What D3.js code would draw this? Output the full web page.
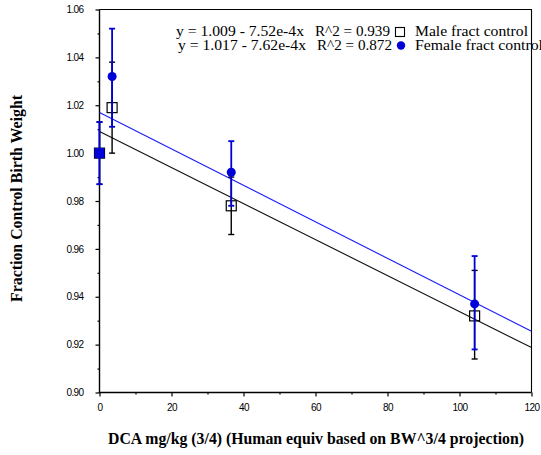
<!DOCTYPE html>
<html>
<head>
<meta charset="utf-8">
<script src="https://cdn.jsdelivr.net/npm/d3@7"></script>
<style>
  body { margin: 0; background: #fff; }
  svg { display: block; }
  .tick text { font-family: "Liberation Sans", Arial, sans-serif; font-size: 10px; letter-spacing: -0.6px; }
</style>
</head>
<body>
<div id="chart"></div>
<script>
// dose (human equiv, mg/kg^(3/4)) and fraction of control birth weight
const doses = [0, 3.5, 36.6, 104.2];
const maleMean = [1.000, 1.019, 0.978, 0.932];
const maleLow = [0.987, 1.000, 0.966, 0.914];
const maleHigh = [1.013, 1.038, 0.990, 0.951];
const femaleMean = [1.000, 1.032, 0.992, 0.937];
const femaleLow = [0.987, 1.011, 0.978, 0.918];
const femaleHigh = [1.013, 1.052, 1.005, 0.957];

// fitted lines: [intercept, slope]
const maleFit = [1.009, -7.52e-4];
const femaleFit = [1.017, -7.62e-4];

const legendEq = ['y = 1.009 - 7.52e-4x', 'y = 1.017 - 7.62e-4x'];
const legendR2 = ['R^2 = 0.939', 'R^2 = 0.872'];
const legendNames = ['Male fract control', 'Female fract control'];

const xDomain = [0, 120];
const yDomain = [0.90, 1.06];
const xMajor = d3.range(0, 121, 20);
const xMinor = d3.range(10, 120, 20);
const yMajor = d3.range(0, 9).map(i => +(0.90 + i * 0.02).toFixed(2));
const yMinor = d3.range(0, 8).map(i => +(0.91 + i * 0.02).toFixed(2));

const width = 541, height = 455;
const plot = { left: 99.5, right: 531.5, top: 9.5, bottom: 392.5 };
const blue = '#0000d8';
const serif = '"Liberation Serif", "Times New Roman", serif';

const svg = d3.select('#chart').append('svg')
  .attr('width', width)
  .attr('height', height);

const x = d3.scaleLinear().domain(xDomain).range([plot.left, plot.right]);
const y = d3.scaleLinear().domain(yDomain).range([plot.bottom, plot.top]);

// frame: thin top/right, heavier axes
svg.append('path')
  .attr('d', `M${plot.left},${plot.top}H${plot.right}V${plot.bottom}`)
  .attr('fill', 'none').attr('stroke', '#000').attr('stroke-width', 1.1);
svg.append('path')
  .attr('d', `M${plot.left},${plot.top}V${plot.bottom}H${plot.right}`)
  .attr('fill', 'none').attr('stroke', '#000').attr('stroke-width', 1.4);

// axes
svg.append('g')
  .attr('transform', `translate(${plot.left},0)`)
  .call(d3.axisLeft(y).tickValues(yMajor).tickFormat(d3.format('.2f')).tickSize(4).tickPadding(12));
svg.append('g')
  .attr('transform', `translate(${plot.left},0)`)
  .call(d3.axisLeft(y).tickValues(yMinor).tickFormat('').tickSize(2));

svg.append('g')
  .attr('transform', `translate(0,${plot.bottom})`)
  .call(d3.axisBottom(x).tickValues(xMajor).tickFormat(d3.format('d')).tickSize(4).tickPadding(7));
svg.append('g')
  .attr('transform', `translate(0,${plot.bottom})`)
  .call(d3.axisBottom(x).tickValues(xMinor).tickFormat('').tickSize(2));

svg.selectAll('.domain').remove();
svg.selectAll('.tick line').attr('stroke', '#000').attr('stroke-width', 1.2);
svg.selectAll('.tick text').attr('fill', '#000');

// axis titles
svg.append('text')
  .attr('x', 108).attr('y', 444)
  .attr('textLength', 416).attr('lengthAdjust', 'spacingAndGlyphs')
  .style('font-family', serif)
  .style('font-weight', 'bold')
  .style('font-size', '16px')
  .text('DCA mg/kg (3/4) (Human equiv based on BW^3/4 projection)');

svg.append('text')
  .attr('transform', 'translate(22,302) rotate(-90)')
  .attr('textLength', 207).attr('lengthAdjust', 'spacingAndGlyphs')
  .style('font-family', serif)
  .style('font-weight', 'bold')
  .style('font-size', '16px')
  .text('Fraction Control Birth Weight');

// regression lines
function fitLine(fit, color) {
  const line = d3.line().x(d => x(d)).y(d => y(fit[0] + fit[1] * d));
  svg.append('path')
    .datum(xDomain)
    .attr('d', line)
    .attr('fill', 'none')
    .attr('stroke', color)
    .attr('stroke-width', 1.1);
}
fitLine(maleFit, '#111');
fitLine(femaleFit, '#1a1aff');

// error bars
function errorBars(low, high, color, w) {
  const g = svg.append('g').attr('stroke', color).attr('stroke-width', w);
  doses.forEach((d, i) => {
    g.append('line').attr('x1', x(d)).attr('x2', x(d)).attr('y1', y(low[i])).attr('y2', y(high[i]));
    [low[i], high[i]].forEach(v => {
      g.append('line').attr('x1', x(d) - 3).attr('x2', x(d) + 3).attr('y1', y(v)).attr('y2', y(v));
    });
  });
}

errorBars(maleLow, maleHigh, '#000', 1.4);
svg.selectAll('.male')
  .data(doses)
  .enter().append('rect')
  .attr('class', 'male')
  .attr('x', (d) => x(d) - 5)
  .attr('y', (d, i) => y(maleMean[i]) - 5)
  .attr('width', 10).attr('height', 10)
  .attr('fill', 'none').attr('stroke', '#000').attr('stroke-width', 1.2);

errorBars(femaleLow, femaleHigh, blue, 1.8);
doses.forEach((d, i) => {
  if (i === 0) { // control point drawn as filled square
    svg.append('rect')
      .attr('x', x(d) - 5).attr('y', y(femaleMean[i]) - 5)
      .attr('width', 10).attr('height', 10)
      .attr('fill', blue);
  } else {
    svg.append('circle')
      .attr('cx', x(d)).attr('cy', y(femaleMean[i]))
      .attr('r', 4.5)
      .attr('fill', blue);
  }
});

// legend
const legend = svg.append('g')
  .style('font-family', serif)
  .style('font-size', '14px');
legendNames.forEach((name, i) => {
  const ly = 36 + i * 14;
  legend.append('text').attr('x', 176 + i * 2).attr('y', ly)
    .attr('textLength', 128).attr('lengthAdjust', 'spacingAndGlyphs').text(legendEq[i]);
  legend.append('text').attr('x', 315 + i * 2).attr('y', ly)
    .attr('textLength', 75).attr('lengthAdjust', 'spacingAndGlyphs').text(legendR2[i]);
  legend.append('text').attr('x', 415).attr('y', ly)
    .attr('textLength', i === 0 ? 113 : 128).attr('lengthAdjust', 'spacingAndGlyphs').text(name);
});
legend.append('rect').attr('x', 395.5).attr('y', 27.5).attr('width', 9).attr('height', 9)
  .attr('fill', 'none').attr('stroke', '#000').attr('stroke-width', 1.1);
legend.append('circle').attr('cx', 401).attr('cy', 45.5).attr('r', 4.2).attr('fill', blue);
</script>
</body>
</html>
